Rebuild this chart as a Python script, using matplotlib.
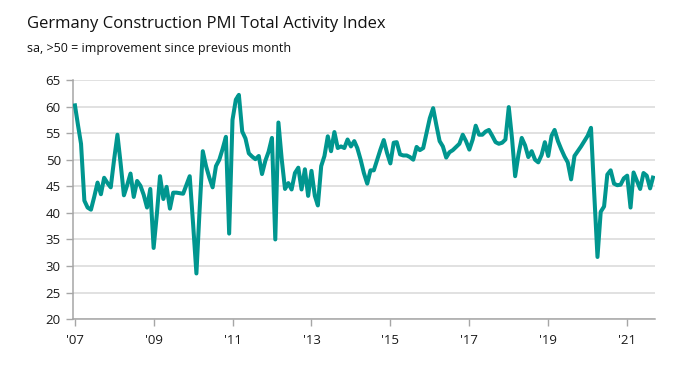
import numpy as np
import pandas as pd
import matplotlib
matplotlib.use("Agg")
import matplotlib.pyplot as plt
import matplotlib.dates as mdates

# monthly index values, Jan 2007 .. Sep 2021
start_month = "2007-01-01"
pmi_values = [
    60.6, 56.5, 53.0, 42.3, 41.0, 40.6, 43.0, 45.7, 43.5, 46.6, 45.6, 44.8,
    50.0, 54.7, 49.4, 43.3, 45.2, 47.4, 43.0, 46.0, 45.1, 43.4, 41.0, 44.5,
    33.4, 40.0, 46.9, 42.6, 44.9, 40.8, 43.8, 43.8, 43.7, 43.6, 45.3, 46.9,
    38.0, 28.6, 40.0, 51.6, 48.8, 46.6, 44.8, 48.8, 50.0, 52.0, 54.3, 36.1,
    57.5, 61.3, 62.2, 55.3, 54.0, 51.2, 50.6, 50.1, 50.7, 47.3, 49.8, 51.5,
    54.1, 35.0, 57.0, 50.0, 44.5, 45.6, 44.4, 47.5, 48.5, 44.4, 48.2, 43.2,
    47.9, 43.2, 41.4, 48.8, 50.7, 54.4, 51.6, 55.2, 52.2, 52.5, 52.2, 53.8,
    52.5, 53.5, 52.2, 50.0, 47.5, 45.5, 48.0, 48.0, 50.0, 51.9, 53.7, 51.3,
    49.3, 53.2, 53.3, 51.0, 50.8, 50.8, 50.5, 50.0, 52.4, 51.8, 52.2, 55.0,
    57.8, 59.7, 56.6, 53.5, 52.5, 50.4, 51.4, 51.8, 52.4, 53.0, 54.7, 53.5,
    51.9, 53.8, 56.4, 54.7, 54.7, 55.3, 55.6, 54.5, 53.3, 53.0, 53.2, 53.8,
    59.9, 53.8, 46.9, 51.0, 54.1, 52.7, 50.5, 51.6, 50.0, 49.5, 50.9, 53.3,
    50.7, 54.5, 55.6, 53.5, 52.0, 50.6, 49.5, 46.3, 50.7, 51.6, 52.5, 53.5,
    54.5, 56.0, 44.0, 31.7, 40.2, 41.2, 47.2, 48.0, 45.5, 45.2, 45.3, 46.5,
    47.0, 41.0, 47.6, 46.0, 44.5, 47.5, 47.0, 44.6, 47.0,
]
y_ticks = [20, 25, 30, 35, 40, 45, 50, 55, 60, 65]
x_tick_years = [2007, 2009, 2011, 2013, 2015, 2017, 2019, 2021]

title = "Germany Construction PMI Total Activity Index"
subtitle = "sa, >50 = improvement since previous month"

months = pd.date_range(start_month, periods=len(pmi_values), freq="MS")

LINE_COLOR = "#00968f"
GRID_COLOR = "#d9d9d9"
AXIS_COLOR = "#a6a6a6"

fig = plt.figure(figsize=(6.92, 3.72), dpi=100)
ax = fig.add_axes([0.106, 0.142, 0.840, 0.643])

ax.plot(months, pmi_values, color=LINE_COLOR, linewidth=2.9,
        solid_joinstyle="round", solid_capstyle="butt", zorder=3)

# y axis
ax.set_ylim(20, 65)
ax.set_yticks(y_ticks)
ax.yaxis.grid(True, color=GRID_COLOR, linewidth=1.1)
ax.set_axisbelow(True)

# x axis
ax.set_xlim(pd.Timestamp("2006-12-20"), pd.Timestamp("2021-09-12"))
ax.set_xticks([pd.Timestamp(f"{y}-01-01") for y in x_tick_years])
ax.xaxis.set_major_formatter(mdates.DateFormatter("'%y"))

for side in ["top", "right"]:
    ax.spines[side].set_visible(False)
for side in ["left", "bottom"]:
    ax.spines[side].set_color(AXIS_COLOR)
    ax.spines[side].set_linewidth(1.1)

ax.tick_params(axis="both", colors=AXIS_COLOR, length=5, width=1.0,
               labelcolor="#1a1a1a", labelsize=9.5)
ax.tick_params(axis="x", pad=6)
ax.tick_params(axis="y", pad=4)
for lbl in ax.get_xticklabels() + ax.get_yticklabels():
    lbl.set_family("Open Sans")

# titles
fig.text(0.039, 0.925, title, fontsize=12, family="Open Sans", color="#111111")
fig.text(0.039, 0.86, subtitle, fontsize=9, family="Open Sans", color="#111111")

fig.savefig("out.png", dpi=100)
